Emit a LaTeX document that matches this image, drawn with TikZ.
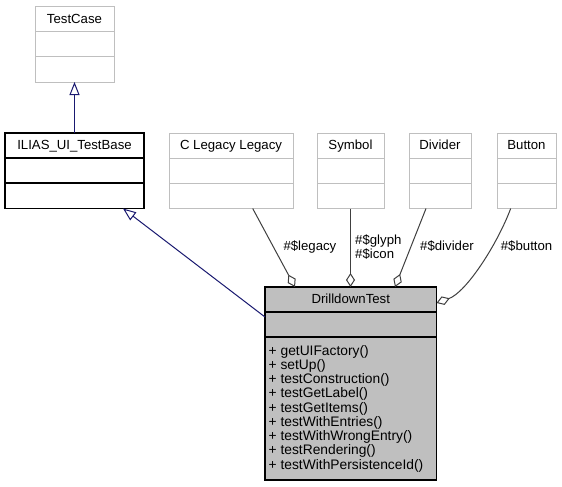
\documentclass[tikz,border=0pt]{standalone}
\usepackage{fontspec}
\setmainfont{Liberation Sans}
\usetikzlibrary{arrows.meta}
\definecolor{boxgray}{HTML}{BFBFBF}
\definecolor{fillgray}{HTML}{BFBFBF}
\definecolor{edgegray}{HTML}{404040}
\definecolor{navyedge}{HTML}{191970}
\newcommand\umlbox[8]{%
  \node[#2, minimum width={(#5-#3)*1pt}, minimum height={(#6-#4)*1pt}] (#1) at ({(#3+#5)/2},{(#4+#6)/2}) {};
  \node[ttl] (#1-t) at ({(#3+#5)/2},{#4+16.8}) {#7};
  \draw[#8] ({#3},{#4+25}) -- ({#5},{#4+25});
  \draw[#8] ({#3},{#4+50}) -- ({#5},{#4+50});
}
\begin{document}
\begin{tikzpicture}[x=1pt,y=-1pt,
  graybox/.style={rectangle, draw=boxgray, line width=1pt, inner sep=0pt, outer sep=0pt},
  blackbox/.style={rectangle, draw=black, line width=1.2pt, inner sep=0pt, outer sep=0pt},
  filledbox/.style={blackbox, fill=fillgray},
  grayline/.style={draw=boxgray, line width=1pt},
  blackline/.style={draw=black, line width=1.2pt},
  ttl/.style={font=\fontsize{13.2}{14.5}\selectfont, inner sep=0pt, anchor=base},
  lbl/.style={font=\fontsize{13.2}{14.5}\selectfont, inner sep=0pt, anchor=base west},
  mth/.style={font=\fontsize{13.8}{14.5}\selectfont, inner sep=0pt, anchor=base west},
  inherit/.style={draw=navyedge, line width=1pt, -{Triangle[length=13pt, width=10pt, fill=white]}},
  agg/.style={draw=edgegray, line width=1pt, -{Diamond[length=14pt, width=9pt, fill=white]}},
]
\fill[white] (0,0) rectangle (562,487);
\useasboundingbox (0,0) rectangle (562,487);

\umlbox{testcase}{graybox}{35}{6.5}{114}{82}{TestCase}{grayline}
\umlbox{ilias}{blackbox}{5}{133}{144}{208.5}{ILIAS\_UI\_TestBase}{blackline}
\umlbox{legacy}{graybox}{169}{133}{293}{208.5}{C Legacy Legacy}{grayline}
\umlbox{symbol}{graybox}{317}{133}{384}{208.5}{Symbol}{grayline}
\umlbox{divider}{graybox}{409}{133}{471}{208.5}{Divider}{grayline}
\umlbox{button}{graybox}{497}{133}{556}{208.5}{Button}{grayline}
\umlbox{drill}{filledbox}{265}{287}{436.5}{480}{DrilldownTest}{blackline}

\foreach \t [count=\i] in {getUIFactory(), setUp(), testConstruction(), testGetLabel(), testGetItems(), testWithEntries(), testWithWrongEntry(), testRendering(), testWithPersistenceId()}
  \node[mth] (m\i) at (268.5,{355+(\i-1)*14.25}) {+ \t};

% inheritance
\draw[inherit] (ilias.north) -- (testcase.south);
\draw[inherit] ([yshift=66.5pt]drill.west) -- ([xshift=48.5pt]ilias.south);

% aggregations
\draw[agg] ([xshift=21.7pt]legacy.south) -- ([xshift=-55.75pt]drill.north);
\draw[agg] (symbol.south) -- ([xshift=-0.25pt]drill.north);
\draw[agg] ([xshift=-14pt]divider.south) -- ([xshift=44.25pt]drill.north);
\draw[agg] ([xshift=-15.8pt]button.south) .. controls (497,245) and (466,292.5) .. ([yshift=80.5pt]drill.east);

% labels
\node[lbl] (l1) at (283.3,250.7) {\#\$legacy};
\node[lbl] (l2) at (355,244) {\#\$glyph};
\node[lbl] (l3) at (355,258) {\#\$icon};
\node[lbl] (l4) at (420,250.7) {\#\$divider};
\node[lbl] (l5) at (500.7,250.7) {\#\$button};
\end{tikzpicture}
\end{document}
